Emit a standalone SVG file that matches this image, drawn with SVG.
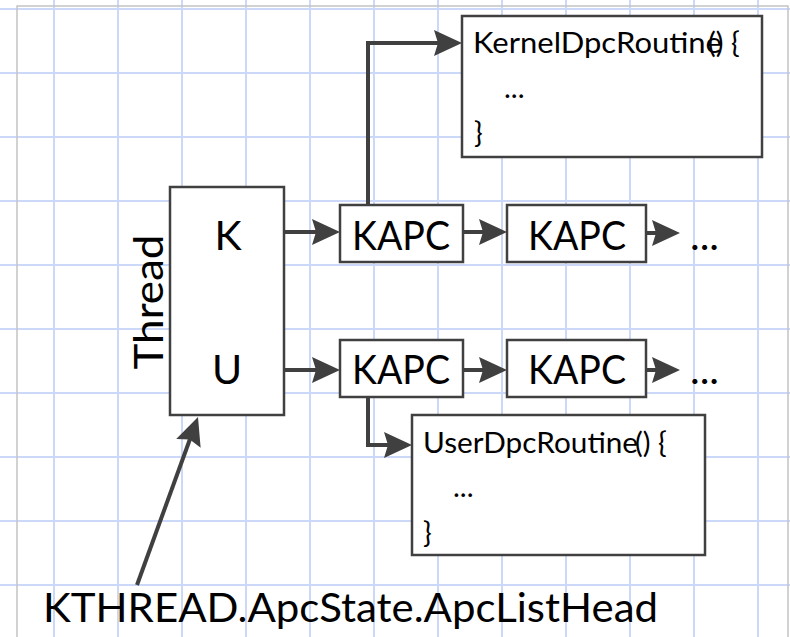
<svg xmlns="http://www.w3.org/2000/svg" width="790" height="637" viewBox="0 0 790 637">
<style>
.grid line{stroke:#cbd8f8;stroke-width:2}
.border{fill:none;stroke:#c4c4c4;stroke-width:1.5}
.box{fill:#ffffff;stroke:#404040;stroke-width:2.5}
.big{font-family:Lato,"Liberation Sans",sans-serif;font-size:41px;fill:#000}
.code{font-family:Lato,"Liberation Sans",sans-serif;font-size:29px;fill:#000}
.conn{fill:none;stroke:#404040;stroke-width:4;marker-end:url(#ah)}
</style>
<defs>
<marker id="ah" markerUnits="userSpaceOnUse" viewBox="0 -15 30 30" refX="14" refY="0" markerWidth="30" markerHeight="30" orient="auto">
<path d="M28,0 L0,-13 L4,0 L0,13 Z" fill="#404040"/>
</marker>
</defs>
<rect x="0" y="0" width="790" height="637" fill="#ffffff"/>
<g class="grid">
<line x1="54" y1="0" x2="54" y2="637"/>
<line x1="118" y1="0" x2="118" y2="637"/>
<line x1="182" y1="0" x2="182" y2="637"/>
<line x1="246" y1="0" x2="246" y2="637"/>
<line x1="310" y1="0" x2="310" y2="637"/>
<line x1="374" y1="0" x2="374" y2="637"/>
<line x1="438" y1="0" x2="438" y2="637"/>
<line x1="502" y1="0" x2="502" y2="637"/>
<line x1="566" y1="0" x2="566" y2="637"/>
<line x1="630" y1="0" x2="630" y2="637"/>
<line x1="694" y1="0" x2="694" y2="637"/>
<line x1="758" y1="0" x2="758" y2="637"/>
<line x1="0" y1="9" x2="790" y2="9"/>
<line x1="0" y1="73" x2="790" y2="73"/>
<line x1="0" y1="137" x2="790" y2="137"/>
<line x1="0" y1="201" x2="790" y2="201"/>
<line x1="0" y1="265" x2="790" y2="265"/>
<line x1="0" y1="329" x2="790" y2="329"/>
<line x1="0" y1="393" x2="790" y2="393"/>
<line x1="0" y1="457" x2="790" y2="457"/>
<line x1="0" y1="521" x2="790" y2="521"/>
<line x1="0" y1="585" x2="790" y2="585"/>
</g>
<path class="border" d="M17,637 V6 H788 V637"/>
<g id="connectors">
<path class="conn" d="M284,232 H326"/>
<path class="conn" d="M463,232 H493"/>
<path class="conn" d="M646,233 H666"/>
<path class="conn" d="M284,370 H326"/>
<path class="conn" d="M463,370 H493"/>
<path class="conn" d="M646,370 H666"/>
<path class="conn" d="M368,205 V43 H448"/>
<path class="conn" d="M368,397 V445 H398"/>
<path class="conn" d="M137,585 L193.2,430.2"/>
</g>
<g id="thread">
<rect class="box" x="170" y="187" width="114" height="228"/>
<text class="big" x="228" y="250" text-anchor="middle">K</text>
<text class="big" x="227" y="384" text-anchor="middle">U</text>
</g>
<g id="thread-label">
<text class="big" transform="translate(163,302) rotate(-90)" text-anchor="middle" textLength="135" lengthAdjust="spacingAndGlyphs">Thread</text>
</g>
<g id="kapc-k1">
<rect class="box" x="340" y="205" width="123" height="57"/>
<text class="big" x="352" y="250" textLength="98" lengthAdjust="spacingAndGlyphs">KAPC</text>
</g>
<g id="kapc-k2">
<rect class="box" x="507" y="205" width="139" height="57"/>
<text class="big" x="528" y="250" textLength="98" lengthAdjust="spacingAndGlyphs">KAPC</text>
</g>
<g id="more-k">
<text class="big" x="690" y="250">...</text>
</g>
<g id="kapc-u1">
<rect class="box" x="340" y="340" width="123" height="57"/>
<text class="big" x="352" y="384" textLength="98" lengthAdjust="spacingAndGlyphs">KAPC</text>
</g>
<g id="kapc-u2">
<rect class="box" x="507" y="340" width="139" height="57"/>
<text class="big" x="528" y="384" textLength="98" lengthAdjust="spacingAndGlyphs">KAPC</text>
</g>
<g id="more-u">
<text class="big" x="690" y="384">...</text>
</g>
<g id="kernel-routine">
<rect class="box" x="462" y="16" width="300" height="141"/>
<text class="code" x="473" y="53"><tspan textLength="249" lengthAdjust="spacingAndGlyphs">KernelDpcRoutine</tspan><tspan x="708">() {</tspan></text>
<text class="code" x="504" y="98">...</text>
<text class="code" x="474" y="143">}</text>
</g>
<g id="user-routine">
<rect class="box" x="412" y="415" width="293" height="140"/>
<text class="code" x="423" y="453"><tspan textLength="215" lengthAdjust="spacingAndGlyphs">UserDpcRoutine</tspan><tspan x="635">() {</tspan></text>
<text class="code" x="453" y="497">...</text>
<text class="code" x="423" y="543">}</text>
</g>
<g id="apclisthead-label">
<text class="big" x="43" y="622" textLength="615" lengthAdjust="spacingAndGlyphs">KTHREAD.ApcState.ApcListHead</text>
</g>
</svg>
